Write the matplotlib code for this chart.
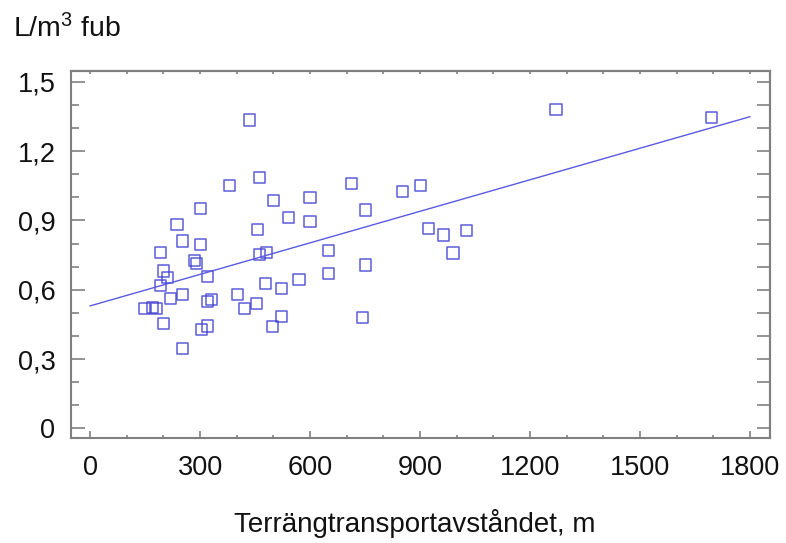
import numpy as np
import matplotlib
matplotlib.use("Agg")
import matplotlib.pyplot as plt
from matplotlib.ticker import FixedLocator, MultipleLocator

plt.rcParams['font.family'] = ['Liberation Sans', 'DejaVu Sans']
plt.rcParams['mathtext.fontset'] = 'custom'
plt.rcParams['mathtext.rm'] = 'Liberation Sans'
plt.rcParams['mathtext.default'] = 'regular'

# avstand (m) och L/m3 fub, avlasta ur bilden
dist = [434, 461, 380, 712, 500, 600, 751, 302, 541, 600,
        237, 456, 251, 302, 192, 461, 481, 651, 284, 291,
        751, 201, 211, 321, 192, 479, 522, 570, 651, 220,
        251, 402, 321, 332, 453, 421, 148, 171, 182, 201,
        522, 321, 304, 498, 744, 251,
        1271, 1695, 852, 902, 924, 965, 1027, 990]
liter = [1.335, 1.087, 1.050, 1.061, 0.988, 1.001, 0.945, 0.950, 0.912, 0.895,
         0.883, 0.859, 0.811, 0.797, 0.760, 0.752, 0.762, 0.769, 0.726, 0.714,
         0.707, 0.681, 0.652, 0.658, 0.620, 0.628, 0.606, 0.645, 0.671, 0.561,
         0.579, 0.579, 0.548, 0.557, 0.540, 0.519, 0.518, 0.524, 0.519, 0.455,
         0.485, 0.443, 0.426, 0.440, 0.479, 0.346,
         1.381, 1.345, 1.026, 1.053, 0.866, 0.837, 0.856, 0.759]

# regressionslinje
line_x = [0, 1800]
line_y = [0.53, 1.349]

xticks = [0, 300, 600, 900, 1200, 1500, 1800]
xlabels = ['0', '300', '600', '900', '1200', '1500', '1800']
yticks = [0, 0.3, 0.6, 0.9, 1.2, 1.5]
ylabels = ['0', '0,3', '0,6', '0,9', '1,2', '1,5']

frame = '#808080'
blue = '#4040d0'

fig = plt.figure(figsize=(7.86, 5.43), dpi=100)
ax = fig.add_axes([0.090, 0.1934, 0.8896, 0.6758])

ax.plot(line_x, line_y, color='#5a5ae0', lw=1.0)
ax.scatter(dist, liter, marker='s', s=64, facecolors='none',
           edgecolors=blue, linewidths=1.1, alpha=0.85)

ax.set_xlim(-53, 1855)
ax.set_ylim(-0.042, 1.547)

ax.xaxis.set_major_locator(FixedLocator(xticks))
ax.set_xticklabels(xlabels)
ax.xaxis.set_minor_locator(MultipleLocator(100))
ax.yaxis.set_major_locator(FixedLocator(yticks))
ax.set_yticklabels(ylabels)
ax.yaxis.set_minor_locator(MultipleLocator(0.1))

ax.tick_params(axis='both', which='both', direction='in', color=frame,
               width=1.2, labelsize=19.5, labelcolor='#111111')
ax.tick_params(axis='y', which='major', length=10, pad=11)
ax.tick_params(axis='y', which='minor', length=5.5)
ax.tick_params(axis='x', which='major', length=5, pad=12)
ax.tick_params(axis='x', which='minor', length=2.5)

for sp in ax.spines.values():
    sp.set_color(frame)
    sp.set_linewidth(1.5)

# hoger och ovre kant med egna streck
right = ax.secondary_yaxis('right')
right.yaxis.set_major_locator(MultipleLocator(0.1))
right.tick_params(direction='in', length=9.5, width=1.2, color=frame,
                  labelright=False)
right.spines['right'].set_color(frame)
right.spines['right'].set_linewidth(1.5)

top = ax.secondary_xaxis('top')
top.xaxis.set_major_locator(MultipleLocator(100))
top.tick_params(direction='in', length=2.5, width=1.2, color=frame,
                labeltop=False)
top.spines['top'].set_color(frame)
top.spines['top'].set_linewidth(1.5)

fig.text(13 / 786, 1 - 37 / 543, 'L/m$^3$ fub', fontsize=20.5,
         ha='left', va='baseline', color='#111111')
fig.text(415 / 786, 1 - 532 / 543, 'Terrängtransportavståndet, m',
         fontsize=20, ha='center', va='baseline', color='#111111')

fig.savefig('out.png', dpi=100)
